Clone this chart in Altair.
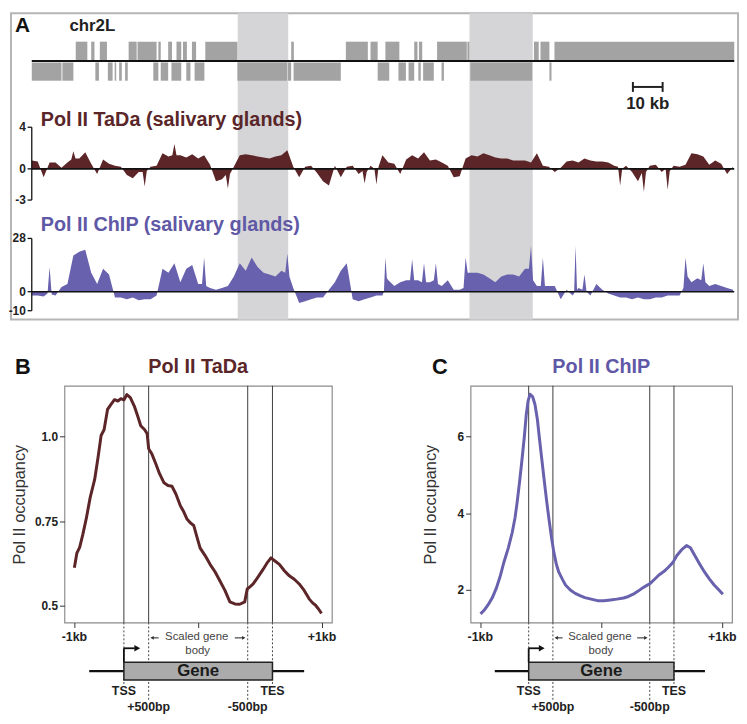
import altair as alt
import pandas as pd

FONT = "Liberation Sans"

# ---------------- Panel A: genome browser view (x in kb) ----------------
band_start = [69.3, 147.3]
band_end = [86.3, 168.6]

plus_start = [14.8, 20.0, 22.9, 32.6, 35.6, 42.6, 45.9, 48.7, 50.9, 53.9, 58.4, 87.3,
              105.7, 114.0, 119.0, 128.7, 130.3, 136.4, 146.6, 169.0, 171.2, 175.9]
plus_end = [18.7, 21.1, 25.3, 35.3, 42.0, 43.4, 47.2, 50.3, 52.2, 55.3, 69.2, 88.2,
            113.1, 116.4, 123.7, 129.8, 131.4, 146.4, 147.3, 170.6, 174.2, 236.4]
minus_start = [0.0, 10.3, 21.4, 25.6, 27.9, 29.4, 31.4, 40.9, 43.4, 47.0, 52.0, 54.8,
               69.2, 86.2, 88.1, 116.4, 123.4, 126.8, 130.1, 131.7, 137.9, 147.6, 174.2]
minus_end = [10.0, 14.0, 22.6, 27.2, 28.4, 30.3, 32.3, 42.6, 45.9, 50.3, 53.4, 58.1,
             85.9, 87.3, 104.0, 120.3, 125.9, 128.7, 130.9, 135.3, 138.7, 168.4, 174.9]

# TaDa signal: a reading every 2 kb plus readings at the edges of narrow spikes
tada_kb = list(range(0, 237, 2))
tada_vals = [0.8, 0.7, -0.8, 0.6, 0.6, 0.1, 0.6, 1.7, 1.0, 1.6,
             0.5, -0.5, 0.9, 0.5, 0.3, 0.2, -0.6, -0.9, -0.3, -1.7,
             0.2, 0.3, 1.5, 1.2, 2.4, 1.3, 1.1, 1.4, 1.0, 1.3,
             0.4, -1.2, -1.0, -1.9, 0.2, 1.3, 1.4, 1.3, 1.2, 1.1,
             1.0, 1.2, 1.3, 1.8, 0.2, -0.8, 0.2, 0.3, -0.4, -1.2,
             -1.6, 0.3, -0.8, 0.2, 0.3, -0.5, -1.4, 0.3, -1.5, 1.3,
             0.6, 0.5, -0.5, 0.9, 1.3, 1.0, 1.6, 0.8, 0.9, 0.6,
             0.3, -0.8, -0.7, 1.0, 1.3, 1.2, 1.5, 1.3, 1.1, 1.0,
             1.0, 0.8, 0.8, 0.8, 0.6, 1.5, 0.3, 0.2, -0.3, 0.1,
             0.7, 0.8, 0.6, 1.0, 0.8, 0.7, 0.7, 0.6, 0.3, -1.6,
             0.3, -0.3, -1.2, -2.2, 0.3, 0.4, -0.3, -2.0, 0.3, 0.2,
             0.4, 1.5, 1.4, 1.2, 0.4, 0.8, 0.5, -0.5, 0.2]
tada_extra_kb = [13.3, 14.7, 37.3, 38.7, 47.3, 48.7, 65.3, 66.7, 111.3, 112.7,
                 115.3, 116.7, 197.3, 198.7, 205.3, 206.7, 213.3, 214.7]
tada_extra_vals = [0.9, 1.0, -0.3, -0.2, 1.3, 1.3, -0.6, -0.5, -0.2, -0.3,
                   0.0, 0.2, 0.2, 0.0, -0.4, -0.3, 0.0, -0.2]

# ChIP signal: a reading every 2 kb plus readings at and around narrow spikes
chip_kb = (list(range(0, 119, 2)) + [119] + list(range(120, 183, 2)) + [183]
           + list(range(184, 237, 2)))
chip_vals = [-2, -2, -2.5, 13, -2, 2.5, 4, 19, 21, 22,
             10, 4, 12, 9, -3, -3, -4, -3, -4.5, -4,
             -4, -2, 12, 10, 15, 5, 12, 14, 4, 18,
             2, 1, 2, 3, 8, 15, 11, 18, 13, 10,
             9, 8, 11, 20, 2, -6, -5, -4, -3, -3,
             1, 5, 11, 15, -4, -5, -4, -3, -2, -2,
             18,
             6, 3, 5, 6, 17, 6, 15, 5, 15, 3,
             6, 1, 1, 18, 10, 10, 9, 7, 5, 8,
             9, 9, 8, 12, 24, 3, 18, 3, 3, -4,
             1, -2,
             24,
             2, 9, -2, 4, 1, -1, -2, -3, -3, -4,
             -3, -4, -4, -3, -3, -2, -2, -2, 18, 5,
             7, 15, 3, 4, 3, 2, 1]
chip_extra_kb = [5.3, 6.7, 57.3, 58.7, 85.3, 86.7, 118.5, 119.5, 127.3, 128.7,
                 131.3, 132.7, 135.3, 136.7, 145.3, 146.7, 167.3, 168.7, 171.3, 172.7,
                 182.5, 183.5, 185.3, 186.7, 219.3, 220.7, 225.3, 226.7]
chip_extra_vals = [-1, -1.5, 4, 3, 10, 8, 0, 7, 6, 6,
                   5, 5, 6, 4, 2, 10, 12, 6, 3, 3,
                   -1, 1, 1, 0, 2, 8, 6, 5]

tada_ticks = [4, 0, -3]
chip_ticks = [28, 0, -10]
scale_bar = [202.3, 212.3]
track_end = 236.4

# ---------------- Panels B, C: meta-gene profiles ----------------
# x: -1kb = 0, TSS = 1, +500bp = 1.5, -500bp = 3.5, TES = 4, +1kb = 5
tada_u = [0.0, 0.05, 0.107, 0.17, 0.24, 0.32, 0.41, 0.48, 0.54, 0.6,
          0.67, 0.74, 0.81, 0.88, 0.94, 1.0, 1.06, 1.13, 1.21, 1.28,
          1.34, 1.42, 1.47, 1.5, 1.56, 1.64, 1.72, 1.81, 1.89, 1.97,
          2.05, 2.14, 2.2, 2.27, 2.34, 2.41, 2.48, 2.54, 2.64, 2.74,
          2.84, 2.94, 3.04, 3.14, 3.24, 3.34, 3.44, 3.49, 3.55, 3.61,
          3.71, 3.81, 3.9, 3.97, 4.05, 4.14, 4.24, 4.34, 4.44, 4.54,
          4.64, 4.74, 4.81, 4.87, 4.93, 4.99]
tada_prof = [0.612, 0.655, 0.672, 0.71, 0.757, 0.82, 0.873, 0.94, 1.003, 1.02,
             1.08, 1.095, 1.109, 1.105, 1.112, 1.108, 1.124, 1.115, 1.09, 1.06,
             1.032, 1.02, 1.008, 0.964, 0.95, 0.921, 0.89, 0.863, 0.855, 0.853,
             0.83, 0.795, 0.78, 0.757, 0.745, 0.737, 0.70, 0.670, 0.648, 0.622,
             0.60, 0.573, 0.545, 0.511, 0.505, 0.504, 0.511, 0.549, 0.556, 0.564,
             0.585, 0.607, 0.628, 0.641, 0.632, 0.622, 0.603, 0.588, 0.578, 0.564,
             0.545, 0.520, 0.508, 0.501, 0.49, 0.477]

chip_u = [0.006, 0.08, 0.16, 0.25, 0.33, 0.41, 0.49, 0.58, 0.66, 0.72,
          0.76, 0.81, 0.86, 0.91, 0.95, 0.99, 1.03, 1.08, 1.13, 1.18,
          1.22, 1.27, 1.32, 1.37, 1.42, 1.47, 1.52, 1.57, 1.62, 1.7,
          1.76, 1.86, 1.96, 2.06, 2.16, 2.29, 2.42, 2.55, 2.69, 2.82,
          2.96, 3.06, 3.16, 3.26, 3.36, 3.44, 3.51, 3.6, 3.69, 3.79,
          3.89, 3.98, 4.06, 4.16, 4.26, 4.34, 4.43, 4.53, 4.63, 4.73,
          4.83, 4.92, 5.01]
chip_prof = [1.375, 1.47, 1.61, 1.8, 2.04, 2.35, 2.73, 3.1, 3.5, 3.9,
             4.27, 4.8, 5.38, 6.0, 6.58, 6.95, 7.11, 7.05, 6.84, 6.45,
             5.98, 5.42, 4.87, 4.33, 3.84, 3.38, 2.98, 2.68, 2.47, 2.27,
             2.13, 2.0, 1.91, 1.85, 1.80, 1.76, 1.72, 1.72, 1.74, 1.76,
             1.79, 1.83, 1.89, 1.97, 2.06, 2.12, 2.17, 2.28, 2.39, 2.48,
             2.60, 2.72, 2.90, 3.05, 3.16, 3.10, 2.90, 2.68, 2.47, 2.29,
             2.13, 2.01, 1.89]

landmark_u = [1.0, 1.5, 3.5, 4.0]
landmark_text = ["TSS", "+500bp", "-500bp", "TES"]
end_u = [0.0, 5.0]
end_text = ["-1kb", "+1kb"]

TADA_COL = "#5c2528"
CHIP_COL = "#6861ad"
TADA_TITLE = "#5a2629"
CHIP_TITLE = "#5f58a6"

# ======================= Panel A =======================
# plot origin lines up with panel B's frame; the boxed area extends to the left
A_LEFT, A_ORIGIN, A_RIGHT = -7.0, 11.0, 237.67     # kb at box left / view left / right
A_W, A_H = int(round((A_RIGHT - A_ORIGIN) * 3)), 303
A_XS = alt.Scale(domain=[A_ORIGIN, A_RIGHT], nice=False, zero=False)


def y_domain(zero_px, px_per_unit, height):
    return [-(height - zero_px) / px_per_unit, zero_px / px_per_unit]


GENE_D = y_domain(42, 20, A_H)
TADA_D = y_domain(151, 10.5, A_H)
CHIP_D = y_domain(275, 1.92, A_H)
FRAME_TOP = GENE_D[1] + 6 / 20      # box edge a few pixels above the plot area


def ax(f):
    return alt.X(f, type="quantitative", scale=A_XS, axis=None)


def ay(f, d):
    return alt.Y(f, type="quantitative",
                 scale=alt.Scale(domain=d, nice=False, zero=False), axis=None)


frame = alt.Chart(pd.DataFrame({"s": [A_LEFT], "e": [A_RIGHT], "y0": [GENE_D[0]], "y1": [FRAME_TOP]})).mark_rect(
    fill="white", stroke="#b5b5b5", strokeWidth=2).encode(x=ax("s"), x2="e", y=ay("y0", GENE_D), y2="y1")
bands = alt.Chart(pd.DataFrame({"s": band_start, "e": band_end, "y0": GENE_D[0], "y1": FRAME_TOP})).mark_rect(
    color="#d5d5d7").encode(x=ax("s"), x2="e", y=ay("y0", GENE_D), y2="y1")

genes_df = pd.concat([
    pd.DataFrame({"s": plus_start, "e": plus_end, "y0": 0.0, "y1": 0.97}),
    pd.DataFrame({"s": minus_start, "e": minus_end, "y0": -0.08, "y1": -1.0}),
], ignore_index=True)
genes = alt.Chart(genes_df).mark_rect(color="#a3a3a3").encode(
    x=ax("s"), x2="e", y=ay("y0", GENE_D), y2="y1")
chrom = alt.Chart(pd.DataFrame({"s": [0], "e": [track_end], "y": [0]})).mark_rule(
    color="#111", strokeWidth=2).encode(x=ax("s"), x2="e", y=ay("y", GENE_D))
bar_h = alt.Chart(pd.DataFrame({"s": [scale_bar[0]], "e": [scale_bar[1]], "y": [-1.315]})).mark_rule(
    color="#222", strokeWidth=2).encode(x=ax("s"), x2="e", y=ay("y", GENE_D))
bar_caps = alt.Chart(pd.DataFrame({"x": scale_bar, "y0": -1.065, "y1": -1.565})).mark_rule(
    color="#222", strokeWidth=2).encode(x=ax("x"), y=ay("y0", GENE_D), y2="y1")
bar_txt = alt.Chart(pd.DataFrame({"x": [sum(scale_bar) / 2], "y": [-2.2], "t": ["10 kb"]})).mark_text(
    font=FONT, baseline="middle", fontSize=17, fontWeight="bold", color="#222", align="center"
).encode(x=ax("x"), y=ay("y", GENE_D), text="t:N")
a_lab = alt.Chart(pd.DataFrame({"x": [-5.67], "y": [1.775], "t": ["A"]})).mark_text(
    font=FONT, baseline="middle", fontSize=21, fontWeight="bold", color="#111", align="left"
).encode(x=ax("x"), y=ay("y", GENE_D), text="t:N")
chr_lab = alt.Chart(pd.DataFrame({"x": [12.67], "y": [1.775], "t": ["chr2L"]})).mark_text(
    font=FONT, baseline="middle", fontSize=17, fontWeight="bold", color="#222", align="left"
).encode(x=ax("x"), y=ay("y", GENE_D), text="t:N")


def track(kb, vals, xkb, xvals, ticks, dom, color, title, title_color, title_y):
    df = pd.DataFrame({"kb": [float(k) for k in list(kb) + list(xkb)],
                       "v": [float(x) for x in list(vals) + list(xvals)]})
    df = df.sort_values("kb").reset_index(drop=True)
    area = alt.Chart(df).mark_area(color=color, interpolate="linear").encode(
        x=ax("kb"), y=ay("v", dom), y2=alt.datum(0))
    zero = alt.Chart(pd.DataFrame({"s": [0], "e": [track_end], "y": [0]})).mark_rule(
        color="#111", strokeWidth=1.6).encode(x=ax("s"), x2="e", y=ay("y", dom))
    axis_line = alt.Chart(pd.DataFrame({"x": [0], "y0": [min(ticks)], "y1": [max(ticks)]})).mark_rule(
        color="#111", strokeWidth=1.3).encode(x=ax("x"), y=ay("y0", dom), y2="y1")
    tdf = pd.DataFrame({"x0": -1.4, "x1": 0.0, "y": ticks, "t": [str(t) for t in ticks]})
    tick_m = alt.Chart(tdf).mark_rule(color="#111", strokeWidth=1.3).encode(
        x=ax("x0"), x2="x1", y=ay("y", dom))
    tick_l = alt.Chart(tdf).mark_text(
        font=FONT, baseline="middle", fontSize=12, fontWeight="bold", color="#222", align="right", dx=-6
    ).encode(x=ax("x1"), y=ay("y", dom), text="t:N")
    ttl = alt.Chart(pd.DataFrame({"x": [3.0], "y": [title_y], "t": [title]})).mark_text(
        font=FONT, baseline="middle", fontSize=20, fontWeight="bold", color=title_color, align="left"
    ).encode(x=ax("x"), y=ay("y", dom), text="t:N")
    return [area, zero, axis_line, tick_m, tick_l, ttl]


tada_layers = track(tada_kb, tada_vals, tada_extra_kb, tada_extra_vals, tada_ticks, TADA_D,
                    TADA_COL, "Pol II TaDa (salivary glands)", TADA_TITLE, 4.71)
chip_layers = track(chip_kb, chip_vals, chip_extra_kb, chip_extra_vals, chip_ticks, CHIP_D,
                    CHIP_COL, "Pol II ChIP (salivary glands)", CHIP_TITLE, 34.9)

panel_a = alt.layer(frame, bands, genes, chrom, bar_h, bar_caps, bar_txt, a_lab, chr_lab,
                    *tada_layers, *chip_layers).resolve_scale(y="independent").properties(
    width=A_W, height=A_H, view=alt.ViewBackground(stroke="transparent", strokeWidth=0))

# ======================= Panels B and C =======================
P_H = 239
P_XS = alt.Scale(domain=[-0.2, 5.2], nice=False, zero=False)
D_DOM = [-(P_H + 5), -5]          # diagram units: 1 unit = 1 px, 0 just below the frame
TITLE_D = D_DOM[0] - 19
X_AXIS = alt.Axis(values=[0, 2.5, 5], labels=False, domain=False, grid=False, ticks=True,
                  tickSize=5, tickColor="#333", title=None)


def pxe(f):
    return alt.X(f, type="quantitative", scale=P_XS, axis=X_AXIS)


def dye(f):
    return alt.Y(f, type="quantitative",
                 scale=alt.Scale(domain=D_DOM, nice=False, zero=False, reverse=True), axis=None)


def label(df, **kw):
    mk = dict(font=FONT, baseline="middle", align="center")
    mk.update(kw)
    return alt.Chart(df).mark_text(**mk).encode(x=pxe("u"), y=dye("d"), text="t:N")


def profile(letter, letter_dx, title, title_color, color, u, v, ydom, yticks, label_expr,
            title_pad, width):
    yaxis = alt.Axis(values=yticks, labelExpr=label_expr, orient="left",
                     title="Pol II occupancy", titleFont=FONT, titleFontSize=16.5,
                     titleFontWeight="normal", titleColor="#333", titlePadding=title_pad,
                     labelFont=FONT, labelFontSize=12, labelFontWeight="bold", labelColor="#222",
                     labelPadding=2, tickSize=5, tickColor="#333", domain=False, grid=False)
    vlines = alt.Chart(pd.DataFrame({"u": landmark_u})).mark_rule(
        color="#3c3c3c", strokeWidth=1).encode(x=pxe("u"))
    line = alt.Chart(pd.DataFrame({"u": u, "v": v})).mark_line(
        color=color, strokeWidth=3, strokeJoin="round").encode(
        x=pxe("u"),
        y=alt.Y("v", type="quantitative",
                scale=alt.Scale(domain=ydom, nice=False, zero=False), axis=yaxis))
    dotted = alt.Chart(pd.DataFrame({"u": landmark_u, "y0": -5, "y1": [57, 73, 73, 57]})).mark_rule(
        strokeDash=[2, 2], color="#444", strokeWidth=1).encode(x=pxe("u"), y=dye("y0"), y2="y1")
    gline = alt.Chart(pd.DataFrame({"u": [0.3], "u2": [4.64], "d": [44]})).mark_rule(
        color="#111", strokeWidth=2.2).encode(x=pxe("u"), x2="u2", y=dye("d"))
    gbox = alt.Chart(pd.DataFrame({"u": [1.0], "u2": [4.0], "d": [35], "d2": [53]})).mark_rect(
        fill="#ababab", stroke="#222", strokeWidth=1.5).encode(x=pxe("u"), x2="u2", y=dye("d"), y2="d2")
    gtext = label(pd.DataFrame({"u": [2.5], "d": [44], "t": ["Gene"]}),
                  fontSize=17, fontWeight="bold", color="#1a1a1a")
    prom_v = alt.Chart(pd.DataFrame({"u": [1.0], "d": [21], "d2": [35]})).mark_rule(
        color="#111", strokeWidth=1.8).encode(x=pxe("u"), y=dye("d"), y2="d2")
    prom_h = alt.Chart(pd.DataFrame({"u": [1.0], "u2": [1.22], "d": [21]})).mark_rule(
        color="#111", strokeWidth=1.8).encode(x=pxe("u"), x2="u2", y=dye("d"))
    prom_head = alt.Chart(pd.DataFrame({"u": [1.27], "d": [21]})).mark_point(
        shape="triangle-right", filled=True, size=45, color="#111", opacity=1).encode(
        x=pxe("u"), y=dye("d"))
    # "scaled gene body" arrows, drawn as short shafts with heads
    shafts = alt.Chart(pd.DataFrame({"u": [1.56, 3.24], "u2": [1.70, 3.42], "d": [10.5, 10.5]})).mark_rule(
        color="#333", strokeWidth=1.1).encode(x=pxe("u"), x2="u2", y=dye("d"))
    heads = alt.Chart(pd.DataFrame({"u": [1.57, 3.42], "d": [10.5, 10.5],
                                    "s": ["triangle-left", "triangle-right"]})).mark_point(
        filled=True, size=16, color="#333", opacity=1).encode(
        x=pxe("u"), y=dye("d"), shape=alt.Shape("s:N", scale=None, legend=None))
    ends = label(pd.DataFrame({"u": end_u, "d": 10, "t": end_text}),
                 fontSize=12.5, fontWeight="bold", color="#222")
    scaled = label(pd.DataFrame({"u": [2.47, 2.49], "d": [10, 23.5], "t": ["Scaled gene", "body"]}),
                   fontSize=11.5, color="#444")
    lms = label(pd.DataFrame({"u": landmark_u, "d": [64, 80, 80, 64], "t": landmark_text}),
                fontSize=12.5, fontWeight="bold", color="#222")
    let = alt.Chart(pd.DataFrame({"u": [-0.2], "d": [TITLE_D], "t": [letter]})).mark_text(
        font=FONT, baseline="middle", align="left", dx=letter_dx, fontSize=22,
        fontWeight="bold", color="#111").encode(x=pxe("u"), y=dye("d"), text="t:N")
    ttl = label(pd.DataFrame({"u": [2.5], "d": [TITLE_D], "t": [title]}),
                fontSize=20, fontWeight="bold", color=title_color)
    return alt.layer(vlines, line, dotted, gline, gbox, gtext, prom_v, prom_h, prom_head,
                     shafts, heads, ends, scaled, lms, let, ttl).resolve_scale(y="independent").properties(
        width=width, height=P_H, view=alt.ViewBackground(stroke="#8c8c8c", strokeWidth=1.2))


panel_b = profile("B", -50, "Pol II TaDa", TADA_TITLE, TADA_COL, tada_u, tada_prof,
                  [0.45, 1.15], [0.5, 0.75, 1.0],
                  "datum.value == 0.75 ? '0.75' : format(datum.value, '.1f')", 7, 270)
panel_c = profile("C", -39, "Pol II ChIP", CHIP_TITLE, CHIP_COL, chip_u, chip_prof,
                  [1.15, 7.33], [2, 4, 6], "format(datum.value, 'd')", 19, 264)

bottom = alt.hconcat(panel_b, panel_c, spacing=84)
chart = alt.vconcat(panel_a, bottom, spacing=35).properties(
    padding=0, background="white").configure(font=FONT)

chart.save("out.html", embed_options={"renderer": "svg", "actions": False})
